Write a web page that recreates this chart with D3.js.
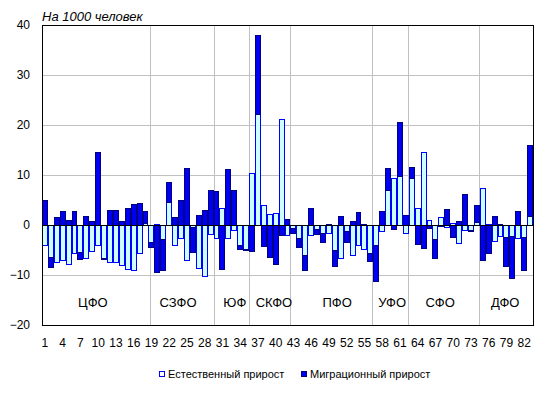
<!DOCTYPE html>
<html>
<head>
<meta charset="utf-8">
<script src="https://cdn.jsdelivr.net/npm/d3@7"></script>
<style>
  body { margin: 0; background: #fff; }
  text { font-family: Arial, "Liberation Sans", sans-serif; fill: #000; }
</style>
</head>
<body>
<svg id="chart"></svg>
<script>
// region numbers 1..83
const regions = d3.range(1, 84);

// natural growth per 1000
const natural = [
  -4.0, -6.4, -7.4, -7.0, -7.8, -5.6, -5.5, -6.6, -5.3, -4.0,
  -6.6, -7.4, -7.4, -8.1, -8.9, -9.1, -5.6, 0.3, -3.5, 0.2,
  -2.8, 4.6, -4.0, -2.6, -7.0, -0.5, -8.6, -10.3, -1.8, -2.7,
  3.3, -2.7, -1.0, -4.0, -4.9, 10.4, 22.2, 4.0, 2.2, 2.4,
  21.1, -2.0, -0.7, -2.7, -6.1, -2.0, -0.8, -1.7, -1.7, -5.0,
  -6.7, -1.3, -6.1, -4.1, -4.9, -5.7, -4.0, -1.2, 7.0, 9.3,
  9.7, -1.6, 9.3, 3.3, 14.5, 1.0, -2.9, 1.5, -0.4, 0.3,
  -3.7, -1.0, -1.0, 0.5, 7.3, 0.2, -3.3, -2.3, -2.5, -2.2,
  -2.7, -2.5, 1.8
];

// migration growth per 1000
const migration = [
  4.9, -2.0, 1.6, 2.8, 0.9, 2.7, -1.3, 1.8, 0.7, 14.6,
  -0.2, 3.0, 2.9, 0.7, 3.3, 4.1, 4.3, 2.4, -0.9, -9.4,
  -6.3, 3.9, 1.6, 5.0, 11.4, -4.9, 2.0, 3.0, 7.0, 6.8,
  -8.8, 11.2, 7.0, -0.9, -0.2, -5.3, 15.8, -4.3, -6.5, -7.9,
  -2.0, 1.2, -1.0, -1.8, -2.9, 3.3, -1.1, -1.7, 0.2, -3.3,
  1.8, -2.2, 0.8, 2.5, 0.1, -1.6, -7.3, 2.8, 4.4, -0.9,
  10.9, 2.0, 2.2, -3.9, -4.7, -0.7, -3.8, -0.2, 3.2, -2.5,
  0.7, 6.2, -0.3, 3.5, -7.1, -5.7, 1.8, 0.2, -5.8, -8.5,
  2.8, -6.5, 14.2
];

const yTicks = [-20, -10, 0, 10, 20, 30, 40];
const xTickLabels = [1, 4, 7, 10, 13, 16, 19, 22, 25, 28, 31, 34, 37, 40, 43, 46, 49, 52, 55, 58, 61, 64, 67, 70, 73, 76, 79, 82];

// federal districts: label and centre (in region units), separators
const districts = ["ЦФО", "СЗФО", "ЮФ", "СКФО", "ПФО", "УФО", "СФО", "ДФО"];
const districtCentres = [8.6, 23.0, 32.6, 39.2, 49.9, 59.2, 67.3, 78.3];
const districtEdges = [18.3, 29.0, 35.0, 42.0, 55.8, 61.8, 73.8];

const seriesNames = ["Естественный прирост", "Миграционный прирост"];

const W = 547, H = 393;
const plot = { left: 42, right: 533, top: 25, bottom: 325 };

const svg = d3.select("#chart").attr("width", W).attr("height", H);

const x = d3.scaleBand().domain(regions).range([plot.left, plot.right]).padding(0);
const xPos = d3.scaleLinear().domain([0, regions.length]).range([plot.left, plot.right]);
const y = d3.scaleLinear().domain([-20, 40]).range([plot.bottom, plot.top]);

// horizontal gridlines
svg.append("g")
  .selectAll("line")
  .data(yTicks.filter(d => d !== 0 && d !== -20 && d !== 40))
  .join("line")
  .attr("x1", plot.left).attr("x2", plot.right)
  .attr("y1", d => Math.round(y(d)) + 0.5).attr("y2", d => Math.round(y(d)) + 0.5)
  .attr("stroke", "#c0c0c0");

// district separators
svg.append("g")
  .selectAll("line")
  .data(districtEdges)
  .join("line")
  .attr("x1", d => Math.round(xPos(d)) + 0.5).attr("x2", d => Math.round(xPos(d)) + 0.5)
  .attr("y1", plot.top).attr("y2", plot.bottom)
  .attr("stroke", "#c0c0c0");

// stacked bars (positive and negative stacked apart, like Excel)
const rows = regions.map((r, i) => ({ id: r, nat: natural[i], mig: migration[i] }));
const stacked = d3.stack().keys(["nat", "mig"]).offset(d3.stackOffsetDiverging)(rows);

const styles = [
  { fill: "#ccffff", stroke: "#0000ff" },
  { fill: "#0000f0", stroke: "#000080" }
];

stacked.forEach((layer, k) => {
  svg.append("g")
    .attr("shape-rendering", "crispEdges")
    .selectAll("rect")
    .data(layer)
    .join("rect")
    .attr("x", d => x(d.data.id) + 0.5)
    .attr("width", x.bandwidth() - 1)
    .attr("y", d => y(Math.max(d[0], d[1])))
    .attr("height", d => Math.abs(y(d[0]) - y(d[1])))
    .attr("fill", styles[k].fill)
    .attr("stroke", styles[k].stroke)
    .attr("stroke-width", 1);
});

// zero line
svg.append("line")
  .attr("x1", plot.left).attr("x2", plot.right)
  .attr("y1", Math.round(y(0)) + 0.5).attr("y2", Math.round(y(0)) + 0.5)
  .attr("stroke", "#000");

// plot border
svg.append("rect")
  .attr("x", plot.left + 0.5).attr("y", plot.top + 0.5)
  .attr("width", plot.right - plot.left).attr("height", plot.bottom - plot.top)
  .attr("fill", "none").attr("stroke", "#000");

// y axis labels
const yaxis = d3.axisLeft(y).tickValues(yTicks).tickSize(0).tickPadding(12);
const g_yaxis = svg.append("g")
  .attr("transform", `translate(${plot.left},0)`)
  .call(yaxis);
g_yaxis.select(".domain").remove();
g_yaxis.selectAll("text").style("font-size", "12px").style("font-family", "Arial, 'Liberation Sans', sans-serif");

// x axis labels
const xaxis = d3.axisBottom(x).tickValues(xTickLabels).tickSize(0).tickPadding(13);
const g_xaxis = svg.append("g")
  .attr("transform", `translate(0,${plot.bottom})`)
  .call(xaxis);
g_xaxis.select(".domain").remove();
g_xaxis.selectAll("text").style("font-size", "12px").style("font-family", "Arial, 'Liberation Sans', sans-serif");

// district labels
svg.append("g")
  .selectAll("text")
  .data(districts)
  .join("text")
  .attr("x", (d, i) => xPos(districtCentres[i]))
  .attr("y", 307)
  .attr("text-anchor", "middle")
  .style("font-size", "13px")
  .text(d => d);

// unit title
svg.append("text")
  .attr("x", plot.left)
  .attr("y", 21)
  .style("font-size", "13px")
  .style("font-style", "italic")
  .text("На 1000 человек");

// legend
const legend = svg.append("g");
const legendX = [159, 301];
seriesNames.forEach((name, k) => {
  legend.append("rect")
    .attr("x", legendX[k] + 0.5).attr("y", 371.5)
    .attr("width", 5).attr("height", 5)
    .attr("fill", k === 0 ? "#fff" : "#0000f0")
    .attr("stroke", k === 0 ? "#0000ff" : "#000080");
  legend.append("text")
    .attr("x", legendX[k] + 9)
    .attr("y", 378)
    .style("font-size", "11px")
    .text(name);
});
</script>
</body>
</html>
